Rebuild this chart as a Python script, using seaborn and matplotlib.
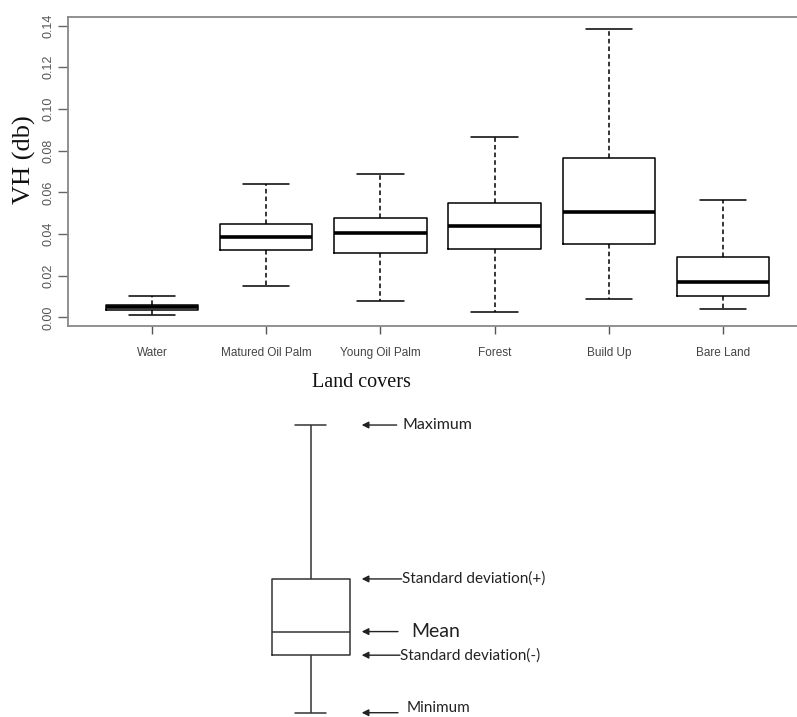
import numpy as np
import pandas as pd
import matplotlib
matplotlib.use('Agg')
import matplotlib.pyplot as plt
import seaborn as sns

# land cover classes and VH box statistics (R style boxplot)
covers = ['Water', 'Matured Oil Palm', 'Young Oil Palm', 'Forest', 'Build Up', 'Bare Land']
vh_min = [0.0014, 0.0149, 0.0080, 0.0024, 0.0090, 0.0042]
vh_q1 = [0.0034, 0.0325, 0.0307, 0.0328, 0.0352, 0.0104]
vh_med = [0.0049, 0.0387, 0.0406, 0.0438, 0.0505, 0.0169]
vh_q3 = [0.0062, 0.0449, 0.0475, 0.0550, 0.0763, 0.0288]
vh_max = [0.0101, 0.0641, 0.0689, 0.0865, 0.1383, 0.0565]
y_ticks = [0.00, 0.02, 0.04, 0.06, 0.08, 0.10, 0.12, 0.14]

# explanatory box (arbitrary units): min, sd-, mean, sd+, max
key_vals = [0.0, 2.0, 2.82, 4.65, 10.0]
key_labels = ['Minimum', 'Standard deviation(-)', 'Mean', 'Standard deviation(+)', 'Maximum']

rows = []
for i, c in enumerate(covers):
    for v in [vh_min[i], vh_q1[i], vh_med[i], vh_q3[i], vh_max[i]]:
        rows.append({'cover': c, 'vh': v})
df = pd.DataFrame(rows)

sns.set_theme(style='ticks')
plt.rcParams['font.family'] = ['Liberation Sans Narrow', 'Liberation Sans', 'DejaVu Sans']

fig = plt.figure(figsize=(7.97, 7.17), dpi=100)

# ---- top chart
ax = fig.add_axes([68/797, 1-326/717, 1-68/797, 309/717])
sns.boxplot(data=df, x='cover', y='vh', order=covers, whis=(0, 100),
            width=0.81, fill=False, color='black', linewidth=1.1,
            whiskerprops=dict(linestyle=(0, (3, 2))),
            medianprops=dict(linewidth=2.6), ax=ax)
ax.set_xlim(-0.736, 5.648)
ax.set_ylim(-0.0041, 0.1441)
ax.set_yticks(y_ticks)
ax.set_yticklabels([f'{t:.2f}' for t in y_ticks], rotation=90, va='center',
                   fontsize=9, color='#555')
ax.set_xticks(range(len(covers)))
ax.set_xticklabels(covers, fontsize=8.5, color='#444')
ax.tick_params(axis='x', length=6, width=1, color='#555', pad=9)
ax.tick_params(axis='y', length=7, width=1, color='#666', pad=3)
for s in ['top', 'bottom', 'left']:
    ax.spines[s].set_color('#888')
    ax.spines[s].set_linewidth(1.3)
ax.spines['right'].set_visible(False)
ax.set_ylabel('VH (db)', fontsize=19, family='Liberation Serif', color='#111')
ax.set_xlabel('Land covers', fontsize=14.5, family='Liberation Serif', color='#111')
ax.yaxis.set_label_coords(-0.044, 0.537)
ax.xaxis.set_label_coords(0.403, -0.152)

# ---- explanatory key
ax2 = fig.add_axes([0, 0, 1, 317/717])
sns.boxplot(y=key_vals, whis=(0, 100), width=0.776, fill=False,
            color='#333', linewidth=1.1, capwidths=0.31, ax=ax2)
ax2.set_xlim(-3.11, 4.86)
ax2.set_ylim(-0.149, 10.87)
ax2.axis('off')

tails = [0.87, 0.89, 0.87, 0.907, 0.857]
text_x = [0.957, 0.89, 1.007, 0.907, 0.913]
sizes = [11, 11, 14, 11, 11.5]
text_shift = [0.16, 0, 0, 0, 0]
for v, lab, tx, xt, fs, sh in zip(key_vals, key_labels, tails, text_x, sizes, text_shift):
    ax2.annotate('', xy=(0.507, v), xytext=(tx, v),
                 arrowprops=dict(arrowstyle='-|>', color='#222', lw=1,
                                 mutation_scale=10, shrinkA=0, shrinkB=0))
    ax2.text(xt, v + sh, lab, fontsize=fs, family='Lato', color='#222',
             ha='left', va='center')

fig.savefig('out.png', dpi=100)
